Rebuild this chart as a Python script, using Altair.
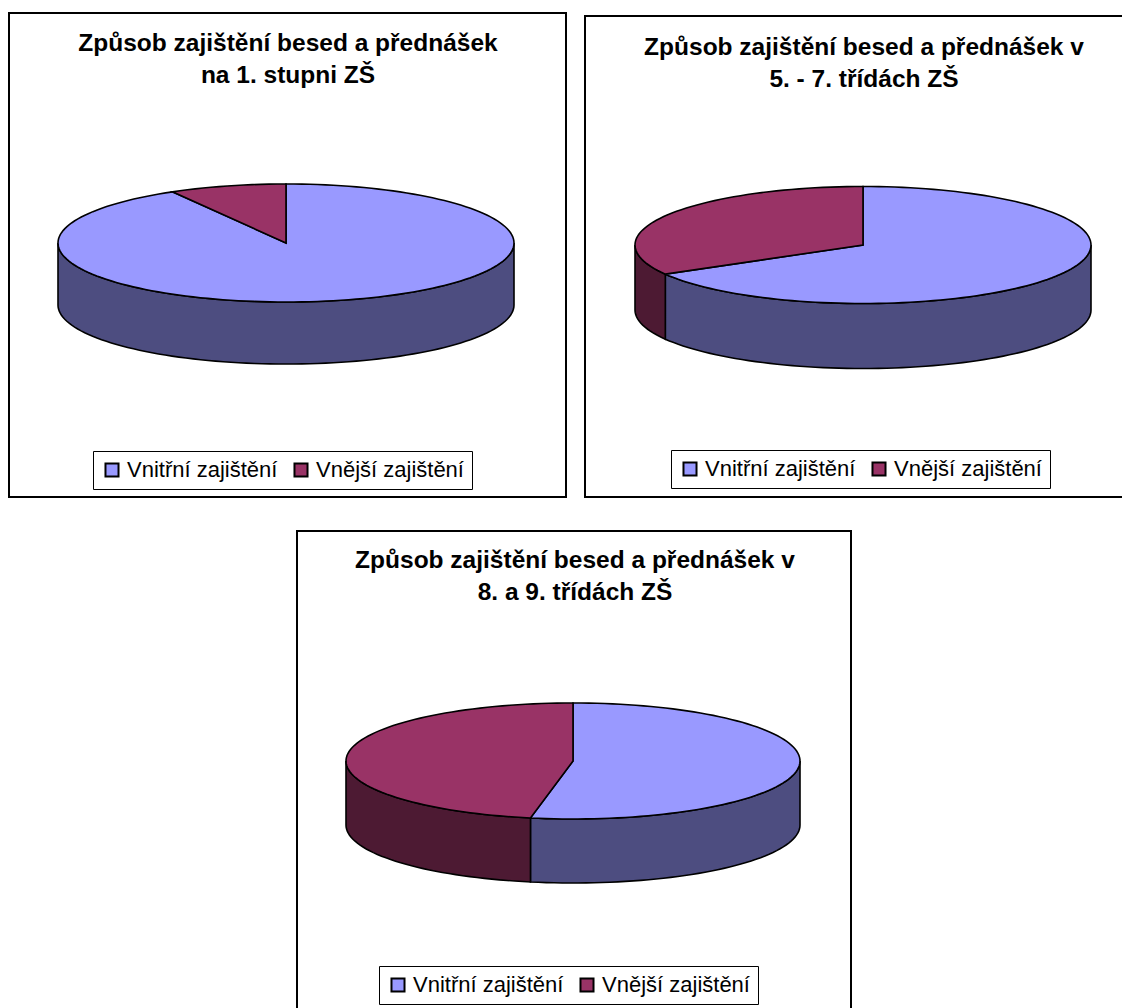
import math
import altair as alt
import pandas as pd

series = ["Vnitřní zajištění", "Vnější zajištění"]
colors = ["#9999FF", "#993366"]
side_colors = ["#4D4D80", "#4D1A33"]
shares = [[91.7, 8.3], [66.7, 33.3], [53.0, 47.0]]
titles = [
    ["Způsob zajištění besed a přednášek", "na 1. stupni ZŠ"],
    ["Způsob zajištění besed a přednášek v", "5. - 7. třídách ZŠ"],
    ["Způsob zajištění besed a přednášek v", "8. a 9. třídách ZŠ"],
]
FONT = "Liberation Sans"


def pt(p, deg, dz=0):
    r = math.radians(deg)
    return p["cx"] + p["rx"] * math.sin(r), p["cy"] - p["ry"] * math.cos(r) + dz


def arc(a, b):
    n = max(2, int(abs(b - a) / 2) + 1)
    return [a + (b - a) * i / (n - 1) for i in range(n)]


def geometry(vals, p):
    tops, sides = [], []
    total = sum(vals)
    start = 0.0
    for k, v in enumerate(vals):
        end = start + 360.0 * v / total
        poly = [pt(p, t) for t in arc(start, end)] + [(p["cx"], p["cy"])]
        for i, (x, y) in enumerate(poly):
            tops.append(dict(series=series[k], x=x, y=y, i=i))
        a, b = max(start, 90.0), min(end, 270.0)
        if a < b:
            ang = arc(a, b)
            poly = [pt(p, t) for t in ang] + [pt(p, t, p["depth"]) for t in reversed(ang)]
            for i, (x, y) in enumerate(poly):
                sides.append(dict(part=series[k], shade=side_colors[k], x=x, y=y, i=i))
        start = end
    return pd.DataFrame(tops), pd.DataFrame(sides)


def panel(idx, view, frame, pie, title_x, title_y, legend_xy):
    x0, x1, y0, y1 = view
    xs = alt.Scale(domain=[x0, x1], nice=False, zero=False)
    ys = alt.Scale(domain=[y1, y0], nice=False, zero=False)
    X = alt.X("x:Q", scale=xs, axis=None)
    Y = alt.Y("y:Q", scale=ys, axis=None)
    tops, sides = geometry(shares[idx], pie)

    fr = alt.Chart(pd.DataFrame([dict(x=frame[0], x2=frame[1], y=frame[2], y2=frame[3])])).mark_rect(
        fill="white", stroke="black", strokeWidth=2, clip=True
    ).encode(X, Y, x2="x2:Q", y2="y2:Q")

    side = alt.Chart(sides).mark_line(stroke="black", strokeWidth=1.6, fillOpacity=1, interpolate="linear-closed").encode(
        X, Y, order="i:Q", detail="part:N", fill=alt.Fill("shade:N", scale=None, legend=None)
    )
    top = alt.Chart(tops).mark_line(stroke="black", strokeWidth=1.6, fillOpacity=1, interpolate="linear-closed").encode(
        X, Y, order="i:Q",
        fill=alt.Fill(
            "series:N",
            scale=alt.Scale(domain=series, range=colors),
            sort=series,
            legend=alt.Legend(
                title=None, orient="none", legendX=legend_xy[0] - x0, legendY=legend_xy[1] - y0,
                direction="horizontal", columns=2, symbolType="square", symbolSize=170,
                symbolStrokeColor="black", symbolStrokeWidth=2, symbolOpacity=1,
                fillColor="white", strokeColor="black", padding=8, columnPadding=12,
                labelFont=FONT, labelFontSize=22, labelColor="black", labelLimit=0,
                labelOffset=4,
            ),
        ),
    )
    tx = pd.DataFrame([dict(x=title_x, y=title_y + n * 32, t=s) for n, s in enumerate(titles[idx])])
    text = alt.Chart(tx).mark_text(
        font=FONT, fontSize=24.5, fontWeight="bold", color="black", align="center", baseline="middle"
    ).encode(X, Y, text="t:N")

    return alt.layer(fr, side, top, text).resolve_scale(fill="independent").properties(
        width=x1 - x0, height=y1 - y0
    )


p1 = panel(0, (8, 578, 8, 498), (9, 566, 13, 497),
           dict(cx=286, cy=243, rx=228, ry=59, depth=62), 288, 44, (93, 451))
p2 = panel(1, (578, 1122, 8, 498), (585, 1160, 16, 497),
           dict(cx=863, cy=245, rx=228, ry=58.5, depth=65), 864, 48, (671, 450))
p3 = panel(2, (8, 1122, 498, 1008), (297, 851, 531, 1040),
           dict(cx=573, cy=761, rx=227, ry=58, depth=64), 575, 561, (379, 966))

chart = alt.vconcat(alt.hconcat(p1, p2, spacing=0), p3, spacing=0).properties(
    padding=0
).configure_view(stroke=None)

chart.save("out.html", embed_options={"renderer": "svg", "actions": False})
